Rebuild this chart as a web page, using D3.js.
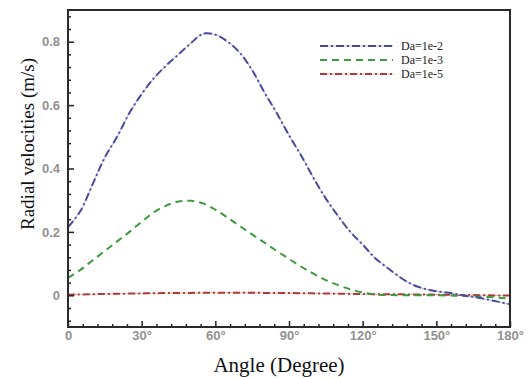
<!DOCTYPE html>
<html><head><meta charset="utf-8">
<script src="https://cdn.jsdelivr.net/npm/d3@7"></script>
<style>
body{margin:0;background:#fff}svg{display:block}
.serif{font-family:"Liberation Serif","Times New Roman",Times,Tinos,"DejaVu Serif",serif}
</style>
</head><body>
<svg id="c" width="531" height="378"></svg>
<script>
const xTicks = [0, 30, 60, 90, 120, 150, 180];
const xTickLabels = ["0", "30°", "60°", "90°", "120°", "150°", "180°"];
const yTicks = [0, 0.2, 0.4, 0.6, 0.8];
const yTickLabels = ["0", "0.2", "0.4", "0.6", "0.8"];
const seriesNames = ["Da=1e-2", "Da=1e-3", "Da=1e-5"];

const angleDa2 = [0, 5, 10, 15, 20, 25, 30, 35, 40, 45, 50, 55, 60, 65, 70, 75, 80, 85, 90, 95, 100, 105, 110, 115, 120, 125, 130, 135, 140, 145, 150, 155, 160, 165, 170, 175, 180];
const velDa2 = [0.215, 0.265, 0.35, 0.435, 0.50, 0.575, 0.635, 0.685, 0.725, 0.76, 0.795, 0.825, 0.822, 0.80, 0.765, 0.71, 0.64, 0.575, 0.505, 0.44, 0.37, 0.305, 0.25, 0.20, 0.16, 0.118, 0.087, 0.058, 0.035, 0.021, 0.013, 0.008, 0.001, -0.005, -0.012, -0.02, -0.028];

const angleDa3 = [0, 5, 10, 15, 20, 25, 30, 35, 40, 45, 50, 55, 60, 65, 70, 75, 80, 85, 90, 95, 100, 105, 110, 115, 120, 125, 130, 140, 150, 160, 170, 180];
const velDa3 = [0.055, 0.08, 0.11, 0.14, 0.17, 0.20, 0.232, 0.262, 0.283, 0.296, 0.298, 0.29, 0.27, 0.245, 0.218, 0.192, 0.166, 0.14, 0.115, 0.09, 0.068, 0.048, 0.032, 0.019, 0.009, 0.003, 0.001, 0.0, 0.0, -0.002, -0.005, -0.01];

const angleDa5 = [0, 30, 60, 90, 120, 150, 180];
const velDa5 = [0.002, 0.006, 0.008, 0.007, 0.004, 0.002, -0.001];

const svg = d3.select("#c");
const L = 68, R = 510, T = 10, B = 327;
const x = d3.scaleLinear().domain([0, 180]).range([L, R]);
const y = d3.scaleLinear().domain([-0.1, 0.9]).range([B, T]);

const line = d3.line().x(d => x(d[0])).y(d => y(d[1])).curve(d3.curveCatmullRom.alpha(0.5));
const zip = (a, b) => a.map((v, i) => [v, b[i]]);

const series = [
  {pts: zip(angleDa2, velDa2), color: "#4a4a9c", under: "#b4b4dc", dash: "8,3,2,3"},
  {pts: zip(angleDa3, velDa3), color: "#3e9a3e", under: null, dash: "7,5"},
  {pts: zip(angleDa5, velDa5), color: "#b03838", under: "#e0b0b0", dash: "7,3,2,3"}
];

[2, 1, 0].forEach(i => {
  const s = series[i];
  if (s.under) svg.append("path").attr("d", line(s.pts)).attr("fill", "none")
    .attr("stroke", s.under).attr("stroke-width", 1);
  svg.append("path").attr("d", line(s.pts)).attr("fill", "none")
    .attr("stroke", s.color).attr("stroke-width", 2).attr("stroke-dasharray", s.dash);
});

const xMinor = d3.range(0, 181, 6).filter(v => v % 30 !== 0);
const yMinor = d3.range(-2, 23).map(k => +(k * 0.04).toFixed(2)).filter(v => Math.abs(v / 0.2 - Math.round(v / 0.2)) > 1e-6 && v <= 0.88);

const gx = svg.append("g").attr("transform", `translate(0,${B})`);
gx.call(d3.axisBottom(x).tickValues(xTicks).tickSizeInner(-6).tickSizeOuter(0).tickPadding(3)
  .tickFormat((d, i) => xTickLabels[i]));
gx.append("g").call(d3.axisBottom(x).tickValues(xMinor).tickSizeInner(-3).tickSizeOuter(0).tickFormat(""));
const gy = svg.append("g").attr("transform", `translate(${L},0)`);
gy.call(d3.axisLeft(y).tickValues(yTicks).tickSizeInner(-6).tickSizeOuter(0).tickPadding(8)
  .tickFormat((d, i) => yTickLabels[i]));
gy.append("g").call(d3.axisLeft(y).tickValues(yMinor).tickSizeInner(-3).tickSizeOuter(0).tickFormat(""));

svg.selectAll(".domain").remove();
svg.selectAll(".tick line").attr("stroke", "#222").attr("stroke-width", 1.5);
svg.selectAll(".tick text").attr("fill", "#919191").attr("font-family", "Arial, 'Liberation Sans', sans-serif")
  .attr("font-weight", "bold").attr("font-size", 13);
gx.selectAll(".tick text").attr("dy", "0.75em");

svg.append("rect").attr("x", L).attr("y", T).attr("width", R - L).attr("height", B - T)
  .attr("fill", "none").attr("stroke", "#2a2a2a").attr("stroke-width", 2);

svg.append("text").attr("class", "serif").attr("x", 279).attr("y", 372).attr("text-anchor", "middle")
  .attr("font-size", 21).attr("fill", "#111").text("Angle (Degree)");
svg.append("text").attr("class", "serif").attr("transform", "translate(34,144) rotate(-90)").attr("text-anchor", "middle")
  .attr("font-size", 19).attr("fill", "#111").text("Radial velocities (m/s)");

const ly = [46, 60, 74];
seriesNames.forEach((n, i) => {
  const s = series[i];
  if (s.under) svg.append("line").attr("x1", 320).attr("x2", 393).attr("y1", ly[i]).attr("y2", ly[i])
    .attr("stroke", s.under).attr("stroke-width", 1);
  svg.append("line").attr("x1", 320).attr("x2", 393).attr("y1", ly[i]).attr("y2", ly[i])
    .attr("stroke", s.color).attr("stroke-width", 2).attr("stroke-dasharray", s.dash);
  svg.append("text").attr("class", "serif").attr("x", 401).attr("y", ly[i]).attr("dy", "0.35em")
    .attr("font-size", 12).attr("fill", "#222").text(n);
});
</script>
</body></html>
